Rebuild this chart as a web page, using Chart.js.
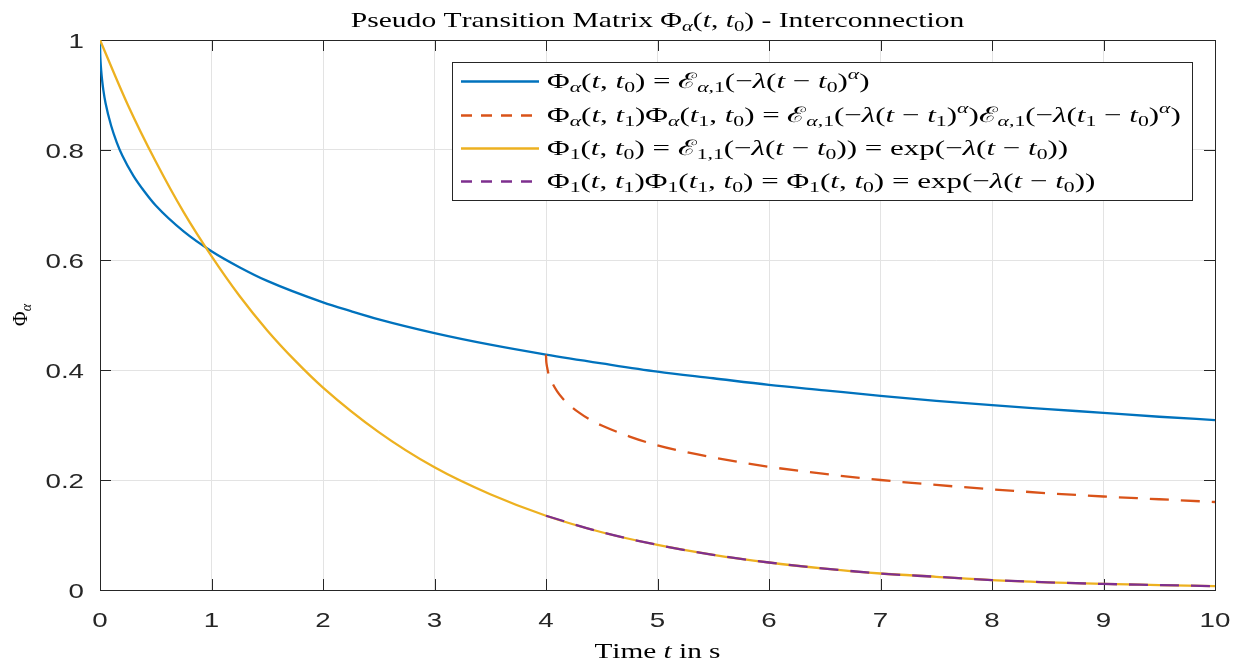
<!DOCTYPE html>
<html>
<head>
<meta charset="utf-8">
<script src="https://cdn.jsdelivr.net/npm/chart.js@4.4.1/dist/chart.umd.min.js"></script>
<style>
  html, body { margin: 0; padding: 0; background: #fff; }
</style>
</head>
<body>
<canvas id="myChart" width="1237" height="666"></canvas>
<script>
// values
var tAlpha   = [0, 0.002, 0.005, 0.01, 0.02, 0.03, 0.05, 0.1, 0.15, 0.2, 0.3, 0.4, 0.5, 0.75, 1, 1.25, 1.5, 2, 2.25, 2.5, 3, 3.5, 4, 4.5, 5, 5.5, 6, 6.5, 7, 7.5, 8, 8.5, 9, 9.5, 10];
var phiAlpha = [1, 0.975, 0.961, 0.946, 0.925, 0.909, 0.885, 0.844, 0.814, 0.790, 0.753, 0.724, 0.699, 0.652, 0.616, 0.587, 0.562, 0.523, 0.507, 0.492, 0.467, 0.446, 0.428, 0.412, 0.397, 0.385, 0.373, 0.363, 0.353, 0.344, 0.336, 0.329, 0.322, 0.315, 0.309];

var tSplit   = [4, 4.002, 4.005, 4.01, 4.02, 4.03, 4.05, 4.1, 4.15, 4.2, 4.3, 4.4, 4.5, 4.75, 5, 5.25, 5.5, 6, 6.5, 7, 7.5, 8, 8.5, 9, 9.5, 10];
var phiSplit = [0.428, 0.417, 0.411, 0.405, 0.395, 0.389, 0.379, 0.361, 0.348, 0.338, 0.322, 0.309, 0.299, 0.279, 0.263, 0.251, 0.241, 0.224, 0.211, 0.200, 0.191, 0.183, 0.176, 0.170, 0.165, 0.160];

var tExp     = [0, 0.25, 0.5, 0.75, 1, 1.25, 1.5, 1.75, 2, 2.5, 3, 3.5, 4, 4.5, 5, 5.5, 6, 6.5, 7, 7.5, 8, 8.5, 9, 9.5, 10];
var phiExp   = [1, 0.882, 0.779, 0.687, 0.607, 0.535, 0.472, 0.417, 0.368, 0.287, 0.223, 0.174, 0.135, 0.105, 0.082, 0.064, 0.050, 0.039, 0.030, 0.024, 0.018, 0.014, 0.011, 0.009, 0.007];

var tProd    = [4, 4.5, 5, 5.5, 6, 6.5, 7, 7.5, 8, 8.5, 9, 9.5, 10];
var phiProd  = [0.135, 0.105, 0.082, 0.064, 0.050, 0.039, 0.030, 0.024, 0.018, 0.014, 0.011, 0.009, 0.007];

var xTicks = [0, 1, 2, 3, 4, 5, 6, 7, 8, 9, 10];
var yTicks = [0, 0.2, 0.4, 0.6, 0.8, 1];

var titleText = 'Pseudo Transition Matrix $Φ_{α}(t, t_{0})$ - Interconnection';
var xLabel = 'Time $t$ in s';
var yLabel = '$Φ_{α}$';
var legendLabels = [
  '$Φ_{α}(t, t_{0}) = ℰ_{α,1}(−λ(t − t_{0})^{α})$',
  '$Φ_{α}(t, t_{1})Φ_{α}(t_{1}, t_{0}) = ℰ_{α,1}(−λ(t − t_{1})^{α})ℰ_{α,1}(−λ(t_{1} − t_{0})^{α})$',
  '$Φ_{1}(t, t_{0}) = ℰ_{1,1}(−λ(t − t_{0})) = $exp$(−λ(t − t_{0}))$',
  '$Φ_{1}(t, t_{1})Φ_{1}(t_{1}, t_{0}) = Φ_{1}(t, t_{0}) = $exp$(−λ(t − t_{0}))$'
];

function pts(xs, ys) {
  return xs.map(function (x, i) { return { x: x, y: ys[i] }; });
}

var SERIF = '"Liberation Serif", serif';
var SANS = '"Liberation Sans", Arial, sans-serif';
var SX_SERIF = 1.45;   // the figure is stretched sideways
var SX_SANS = 1.32;

// tiny markup: $..$ math (italic letters), _{..} sub, ^{..} sup
function parseRich(str) {
  var segs = [], math = false, i = 0;
  while (i < str.length) {
    var c = str[i];
    if (c === '$') { math = !math; i++; continue; }
    if ((c === '_' || c === '^') && str[i + 1] === '{') {
      var j = str.indexOf('}', i);
      var inner = str.slice(i + 2, j);
      for (var k = 0; k < inner.length; k++) {
        segs.push({ ch: inner[k], level: c === '_' ? -1 : 1, it: math && /[a-zλα]/.test(inner[k]) });
      }
      i = j + 1;
      continue;
    }
    segs.push({ ch: c, level: 0, it: math && /[a-zλα]/.test(c) });
    i++;
  }
  return segs;
}

function segFont(s, size) {
  var sz = s.level ? size * 0.7 : size;
  return (s.it ? 'italic ' : '') + sz + 'px ' + SERIF;
}

function drawRich(ctx, str, x, y, size, align, sx) {
  var segs = parseRich(str);
  ctx.save();
  ctx.textAlign = 'left';
  ctx.textBaseline = 'alphabetic';
  var w = 0;
  segs.forEach(function (s) {
    ctx.font = segFont(s, size);
    s.w = ctx.measureText(s.ch).width;
    w += s.w;
  });
  var x0 = align === 'center' ? x - w * sx / 2 : (align === 'right' ? x - w * sx : x);
  ctx.translate(x0, y);
  ctx.scale(sx, 1);
  var cx = 0;
  segs.forEach(function (s) {
    ctx.font = segFont(s, size);
    var dy = s.level === -1 ? size * 0.22 : (s.level === 1 ? -size * 0.4 : 0);
    ctx.fillText(s.ch, cx, dy);
    cx += s.w;
  });
  ctx.restore();
}

function stretchText(ctx, txt, x, y, size, align, sx) {
  ctx.save();
  ctx.font = size + 'px ' + SANS;
  ctx.textBaseline = 'alphabetic';
  ctx.textAlign = 'left';
  var w = ctx.measureText(txt).width * sx;
  var x0 = align === 'center' ? x - w / 2 : (align === 'right' ? x - w : x);
  ctx.translate(x0, y);
  ctx.scale(sx, 1);
  ctx.fillText(txt, 0, 0);
  ctx.restore();
}

// box, inward ticks and tick labels (MATLAB look)
var axesPlugin = {
  id: 'axesBox',
  beforeDatasetsDraw: function (chart) {
    var ctx = chart.ctx, a = chart.chartArea;
    var xs = chart.scales.x, ys = chart.scales.y;
    ctx.save();
    ctx.strokeStyle = '#262626';
    ctx.lineWidth = 1;
    ctx.beginPath();
    xTicks.forEach(function (v) {
      var px = Math.round(xs.getPixelForValue(v)) + 0.5;
      ctx.moveTo(px, a.bottom); ctx.lineTo(px, a.bottom - 11);
      ctx.moveTo(px, a.top); ctx.lineTo(px, a.top + 11);
    });
    yTicks.forEach(function (v) {
      var py = Math.round(ys.getPixelForValue(v)) + 0.5;
      ctx.moveTo(a.left, py); ctx.lineTo(a.left + 11, py);
      ctx.moveTo(a.right, py); ctx.lineTo(a.right - 11, py);
    });
    ctx.stroke();
    ctx.strokeRect(Math.round(a.left) + 0.5, Math.round(a.top) + 0.5,
      Math.round(a.right - a.left), Math.round(a.bottom - a.top));
    ctx.restore();
  },
  afterDraw: function (chart) {
    var ctx = chart.ctx, a = chart.chartArea;
    var xs = chart.scales.x, ys = chart.scales.y;
    ctx.save();
    ctx.fillStyle = '#262626';
    xTicks.forEach(function (v) {
      stretchText(ctx, String(v), xs.getPixelForValue(v), a.bottom + 37, 21, 'center', SX_SANS);
    });
    yTicks.forEach(function (v) {
      stretchText(ctx, String(v), a.left - 16, ys.getPixelForValue(v) + 8, 21, 'right', SX_SANS);
    });
    ctx.fillStyle = '#000';
    var cxm = (a.left + a.right) / 2;
    drawRich(ctx, titleText, cxm, 27, 20.4, 'center', SX_SERIF);
    drawRich(ctx, xLabel, cxm, 658, 20.2, 'center', SX_SERIF);
    ctx.save();
    ctx.translate(27, (a.top + a.bottom) / 2);
    ctx.rotate(-Math.PI / 2);
    drawRich(ctx, yLabel, 0, 0, 20, 'center', 1);
    ctx.restore();

    // legend
    var bx = 452, by = 62, bw = 740, bh = 138;
    ctx.fillStyle = '#fff';
    ctx.fillRect(bx, by, bw, bh);
    ctx.strokeStyle = '#262626';
    ctx.lineWidth = 1;
    ctx.strokeRect(bx + 0.5, by + 0.5, bw, bh);
    var rows = [81.5, 115.5, 148.5, 181.5];
    chart.data.datasets.forEach(function (ds, i) {
      ctx.save();
      ctx.strokeStyle = ds.borderColor;
      ctx.lineWidth = ds.borderWidth;
      ctx.setLineDash(ds.borderDash && ds.borderDash.length ? [11, 9] : []);
      ctx.beginPath();
      ctx.moveTo(461, rows[i]);
      ctx.lineTo(539, rows[i]);
      ctx.stroke();
      ctx.restore();
      ctx.fillStyle = '#000';
      drawRich(ctx, legendLabels[i], 547, rows[i] + 6, 21.4, 'left', SX_SERIF);
    });
    ctx.restore();
  }
};

var ctx = document.getElementById('myChart').getContext('2d');
var myChart = new Chart(ctx, {
  type: 'line',
  data: {
    datasets: [{
      data: pts(tAlpha, phiAlpha),
      borderColor: '#0072BD',
      borderWidth: 2.3,
      order: 4
    }, {
      data: pts(tSplit, phiSplit),
      borderColor: '#D95319',
      borderWidth: 2.3,
      borderDash: [19, 12],
      order: 3
    }, {
      data: pts(tExp, phiExp),
      borderColor: '#EDB120',
      borderWidth: 2.3,
      order: 2
    }, {
      data: pts(tProd, phiProd),
      borderColor: '#7E2F8E',
      borderWidth: 2.3,
      borderDash: [19, 12],
      order: 1
    }]
  },
  options: {
    responsive: false,
    animation: false,
    events: [],
    layout: { padding: { top: 40, right: 22, left: 0, bottom: 0 } },
    elements: {
      point: { radius: 0 },
      line: { cubicInterpolationMode: 'monotone', fill: false }
    },
    scales: {
      x: {
        type: 'linear',
        min: 0,
        max: 10,
        ticks: { display: false, stepSize: 1 },
        grid: { color: '#e3e3e3', drawTicks: false },
        border: { display: false },
        afterFit: function (scale) { scale.height = 76; }
      },
      y: {
        type: 'linear',
        min: 0,
        max: 1,
        ticks: { display: false, stepSize: 0.2 },
        grid: { color: '#e3e3e3', drawTicks: false },
        border: { display: false },
        afterFit: function (scale) { scale.width = 100; }
      }
    },
    plugins: {
      legend: { display: false },
      tooltip: { enabled: false },
      title: { display: false }
    }
  },
  plugins: [axesPlugin]
});
</script>
</body>
</html>
